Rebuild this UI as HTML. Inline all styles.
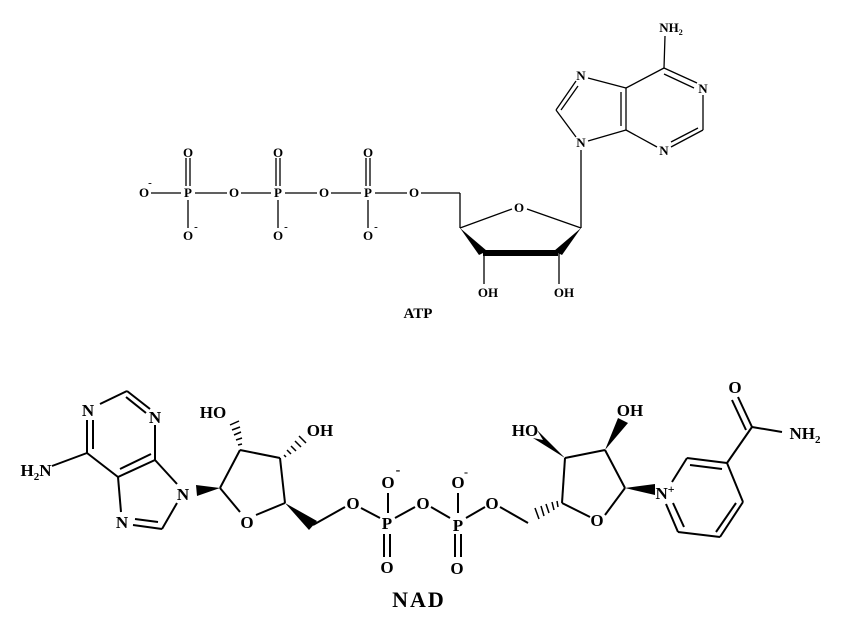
<!DOCTYPE html>
<html><head><meta charset="utf-8"><style>
html,body{margin:0;padding:0;background:#fff;}
svg{display:block;}
text{font-family:"Liberation Serif",serif;font-weight:bold;fill:#000;}
.a{font-size:13px;}
.n{font-size:17px;}
</style></head><body>
<svg width="854" height="634" viewBox="0 0 854 634" xmlns="http://www.w3.org/2000/svg">
<!-- ATP -->
<g stroke="#000" stroke-width="1.3" fill="none">
<line x1="151" y1="193" x2="181" y2="193"/><line x1="195" y1="193" x2="227" y2="193"/>
<line x1="241" y1="193" x2="271" y2="193"/><line x1="285" y1="193" x2="317" y2="193"/>
<line x1="331" y1="193" x2="361" y2="193"/><line x1="375" y1="193" x2="407" y2="193"/>
<line x1="421" y1="193" x2="460" y2="193"/><line x1="460" y1="193" x2="460" y2="228"/>
<line x1="186" y1="158" x2="186" y2="186"/><line x1="190" y1="158" x2="190" y2="186"/>
<line x1="276" y1="158" x2="276" y2="186"/><line x1="280" y1="158" x2="280" y2="186"/>
<line x1="366" y1="158" x2="366" y2="186"/><line x1="370" y1="158" x2="370" y2="186"/>
<line x1="188" y1="200" x2="188" y2="228"/><line x1="278" y1="200" x2="278" y2="228"/><line x1="368" y1="200" x2="368" y2="228"/>
<line x1="460" y1="228" x2="512" y2="209"/><line x1="527" y1="209" x2="581" y2="228"/>
<line x1="484" y1="253" x2="484" y2="284"/><line x1="559" y1="253" x2="559" y2="284"/>
<line x1="581" y1="228" x2="581" y2="150"/>
<line x1="576" y1="137" x2="556" y2="110"/><line x1="556" y1="110" x2="576" y2="81"/><line x1="561" y1="110" x2="578" y2="86"/>
<line x1="588" y1="78" x2="626" y2="88"/><line x1="626" y1="88" x2="626" y2="130"/><line x1="621" y1="92" x2="621" y2="126"/>
<line x1="626" y1="130" x2="588" y2="141"/><line x1="626" y1="130" x2="657" y2="147"/>
<line x1="671" y1="147" x2="703" y2="130"/><line x1="671" y1="142" x2="698" y2="128"/>
<line x1="703" y1="130" x2="703" y2="95"/>
<line x1="697" y1="83" x2="664" y2="68"/><line x1="694" y1="88" x2="664" y2="74"/>
<line x1="664" y1="68" x2="626" y2="88"/><line x1="664" y1="68" x2="665" y2="36"/>
</g>
<polygon points="460,228 479,255 487,251" fill="#000"/>
<line x1="483" y1="253" x2="558" y2="253" stroke="#000" stroke-width="6"/>
<polygon points="581,228 554,251 562,255" fill="#000"/>
<g class="a" text-anchor="middle">
<text x="144" y="197">O</text><text x="150" y="186" font-size="11">-</text>
<text x="188" y="197">P</text><text x="234" y="197">O</text><text x="278" y="197">P</text>
<text x="324" y="197">O</text><text x="368" y="197">P</text><text x="414" y="197">O</text>
<text x="188" y="157">O</text><text x="278" y="157">O</text><text x="368" y="157">O</text>
<text x="188" y="240">O</text><text x="278" y="240">O</text><text x="368" y="240">O</text>
<text x="196" y="230" font-size="11">-</text><text x="286" y="230" font-size="11">-</text><text x="376" y="230" font-size="11">-</text>
<text x="519" y="212">O</text>
<text x="488" y="297">OH</text><text x="564" y="297">OH</text>
<text x="418" y="318" font-size="15">ATP</text>
<text x="581" y="147">N</text><text x="581" y="80">N</text>
<text x="664" y="155">N</text><text x="703" y="93">N</text>
<text x="671" y="32">NH<tspan font-size="8" dy="3">2</tspan></text>
</g>
<!-- NAD -->
<g stroke="#000" stroke-width="2" fill="none">
<line x1="100" y1="404" x2="127" y2="391"/><line x1="127" y1="391" x2="150" y2="409"/><line x1="126" y1="397" x2="146" y2="413"/>
<line x1="155" y1="425" x2="155" y2="460"/>
<line x1="155" y1="460" x2="118" y2="477"/><line x1="151" y1="454" x2="120" y2="469"/>
<line x1="118" y1="477" x2="87" y2="453"/>
<line x1="87" y1="453" x2="87" y2="420"/><line x1="93" y1="449" x2="93" y2="420"/>
<line x1="87" y1="453" x2="52" y2="466"/>
<line x1="118" y1="477" x2="121" y2="512"/>
<line x1="133" y1="525" x2="162" y2="529"/><line x1="135" y1="519" x2="158" y2="522"/>
<line x1="162" y1="529" x2="177" y2="503"/><line x1="177" y1="484" x2="155" y2="460"/>
<line x1="220" y1="488" x2="240" y2="512"/><line x1="256" y1="515" x2="285" y2="503"/>
<line x1="285" y1="503" x2="280" y2="458"/><line x1="280" y1="458" x2="240" y2="450"/><line x1="240" y1="450" x2="220" y2="488"/>
<line x1="313" y1="525" x2="345" y2="507"/><line x1="361" y1="508" x2="380" y2="518"/>
<line x1="388" y1="513" x2="388" y2="493"/><line x1="384" y1="534" x2="384" y2="557"/><line x1="390" y1="534" x2="390" y2="557"/>
<line x1="395" y1="518" x2="415" y2="507"/><line x1="431" y1="507" x2="450" y2="518"/>
<line x1="458" y1="513" x2="458" y2="493"/><line x1="455" y1="534" x2="455" y2="557"/><line x1="461" y1="534" x2="461" y2="557"/>
<line x1="466" y1="518" x2="485" y2="507"/><line x1="500" y1="507" x2="528" y2="523"/>
<line x1="562" y1="503" x2="590" y2="517"/><line x1="605" y1="515" x2="625" y2="488"/>
<line x1="625" y1="488" x2="605" y2="450"/><line x1="605" y1="450" x2="565" y2="458"/><line x1="565" y1="458" x2="562" y2="503"/>
<line x1="672" y1="482" x2="687" y2="458"/>
<line x1="687" y1="458" x2="727" y2="463"/><line x1="690" y1="465" x2="722" y2="469"/>
<line x1="727" y1="463" x2="743" y2="502"/>
<line x1="743" y1="502" x2="720" y2="537"/><line x1="736" y1="503" x2="716" y2="532"/>
<line x1="720" y1="537" x2="678" y2="532"/>
<line x1="678" y1="532" x2="666" y2="504"/><line x1="684" y1="527" x2="673" y2="503"/>
<line x1="727" y1="463" x2="752" y2="427"/>
<line x1="752" y1="427" x2="738" y2="397"/><line x1="746" y1="430" x2="732" y2="400"/>
<line x1="752" y1="427" x2="782" y2="432"/>
</g>
<g fill="#000">
<polygon points="196,485 197,496 220,488"/>
<polygon points="285,503 309,530 317,521"/>
<polygon points="565,458 537,430 543,440 533,438"/>
<polygon points="605,450 618,418 628,423"/>
<polygon points="625,488 655,484 655,495"/>
</g>
<g stroke="#000" stroke-width="1.5">
<line x1="238" y1="445" x2="242" y2="444"/><line x1="236" y1="440" x2="242" y2="438"/><line x1="234" y1="435" x2="241" y2="432"/><line x1="232" y1="430" x2="240" y2="427"/><line x1="230" y1="425" x2="239" y2="421"/>
<line x1="284" y1="455" x2="286" y2="457"/><line x1="287" y1="450" x2="291" y2="454"/><line x1="291" y1="446" x2="296" y2="451"/><line x1="295" y1="441" x2="301" y2="447"/><line x1="299" y1="436" x2="306" y2="443"/>
<line x1="557" y1="501" x2="558" y2="507"/><line x1="552" y1="502" x2="554" y2="510"/><line x1="546" y1="504" x2="549" y2="513"/><line x1="541" y1="506" x2="544" y2="516"/><line x1="535" y1="508" x2="539" y2="519"/>
</g>
<g class="n" text-anchor="middle">
<text x="88" y="416">N</text><text x="155" y="423">N</text>
<text x="36" y="476">H<tspan font-size="11" dy="4">2</tspan><tspan dy="-4">N</tspan></text>
<text x="122" y="528">N</text><text x="183" y="500">N</text>
<text x="213" y="418">HO</text><text x="320" y="436">OH</text>
<text x="247" y="528">O</text>
<text x="353" y="509">O</text><text x="387" y="529">P</text><text x="388" y="488">O</text><text x="398" y="474" font-size="14">-</text>
<text x="387" y="573">O</text><text x="423" y="509">O</text>
<text x="458" y="531">P</text><text x="458" y="488">O</text><text x="466" y="476" font-size="12">-</text>
<text x="457" y="574">O</text><text x="492" y="509">O</text>
<text x="597" y="526">O</text><text x="525" y="436">HO</text><text x="630" y="416">OH</text>
<text x="665" y="499">N<tspan font-size="12" dy="-6">+</tspan></text>
<text x="735" y="393">O</text>
<text x="805" y="439">NH<tspan font-size="11" dy="4">2</tspan></text>
<text x="419" y="607" font-size="22" letter-spacing="2">NAD</text>
</g>
</svg>
</body></html>
